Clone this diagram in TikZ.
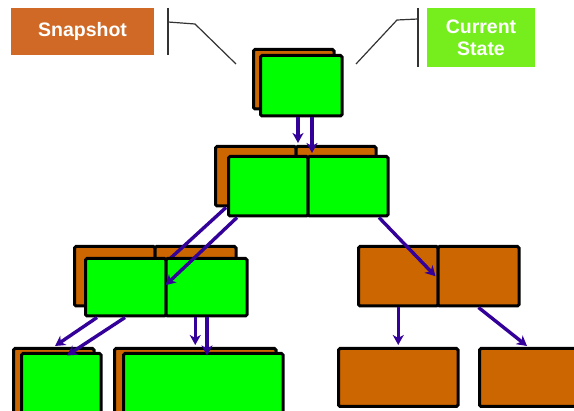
\documentclass[tikz,border=0pt]{standalone}
\usepackage{fontspec}
\newfontfamily\legendfont{Liberation Sans}
\usetikzlibrary{arrows.meta,fit}
\definecolor{snaporange}{RGB}{204,102,0}
\definecolor{livegreen}{RGB}{0,255,0}
\definecolor{tagorange}{RGB}{208,104,38}
\definecolor{taggreen}{RGB}{118,238,30}
\definecolor{linkblue}{RGB}{51,0,153}
\begin{document}
\begin{tikzpicture}[x=1pt,y=-1pt,
  cellbox/.style={draw=black, line width=3pt, rounded corners=1.5pt, inner sep=0pt},
  snapcell/.style={cellbox, fill=snaporange},
  livecell/.style={cellbox, fill=livegreen},
  tag/.style={text=white, font=\legendfont\bfseries\fontsize{19.5}{22}\selectfont,
              align=center, inner sep=0pt},
  link/.style={draw=linkblue, line width=3.4pt,
               -{Stealth[length=10pt,width=11pt,inset=3pt]}},
  leader/.style={draw=black!80, line width=1.2pt}]

\useasboundingbox (0,0) rectangle (574,411);
\clip (0,0) rectangle (574,411);

% ---- legend ----
\node[tag, fill=tagorange, minimum width=143pt, minimum height=47pt] (snaptag) at (82.5,31.5) {Snapshot};
\node[tag, fill=taggreen, minimum width=108pt, minimum height=59pt] (curtag) at (481,37.5) {Current\\State};

\coordinate (snapbrT) at (168,8);
\coordinate (snapbrB) at (168,55);
\coordinate (snapbrM) at (168,22);
\coordinate (snapkink) at (195,24);
\coordinate (snapend) at (236,64);
\draw[leader] (snapbrT) -- (snapbrB);
\draw[leader] (snapbrM) -- (snapkink) -- (snapend);

\coordinate (curbrT) at (418,8);
\coordinate (curbrB) at (418,67);
\coordinate (curbrM) at (418,19);
\coordinate (curkink) at (397,20);
\coordinate (curend) at (356,64);
\draw[leader] (curbrT) -- (curbrB);
\draw[leader] (curbrM) -- (curkink) -- (curend);

% ---- snapshot tree (back layer) ----
\node[snapcell, fit={(253.5,49.5) (334,109)}] (t0o) {};
\node[snapcell, fit={(215.5,146.5) (296,206)}] (l2oL) {};
\node[snapcell, fit={(296,146.5) (376,206)}] (l2oR) {};
\node[snapcell, fit={(74.5,246.5) (155,306)}] (l3oL) {};
\node[snapcell, fit={(155,246.5) (236,306)}] (l3oR) {};
\node[snapcell, fit={(358.5,246.5) (438,306)}] (l3rL) {};
\node[snapcell, fit={(438,246.5) (519,306)}] (l3rR) {};
\node[snapcell, fit={(13.5,348.5) (94,430)}] (l4ao) {};
\node[snapcell, fit={(114.5,348.5) (276,430)}] (l4bo) {};
\node[snapcell, fit={(338.5,348.5) (458,406.5)}] (l4c) {};
\node[snapcell, fit={(479.5,348.5) (600,406.5)}] (l4d) {};

% ---- current state tree (front layer) ----
\node[livecell, fit={(260.5,55.5) (342,116)}] (t0g) {};
\node[livecell, fit={(228.5,156.5) (308,216)}] (l2gL) {};
\node[livecell, fit={(308,156.5) (388,216)}] (l2gR) {};

% snapshot-to-snapshot pointer, its head runs under the front cell
\draw[link] ([xshift=-29.75pt]l2oL.south) -- ([xshift=-39.5pt,yshift=-26.5pt]l3oR.north);

\node[livecell, fit={(85.5,258.5) (166,316)}] (l3gL) {};
\node[livecell, fit={(166,258.5) (247,316)}] (l3gR) {};
\node[livecell, fit={(21.5,353.5) (101,430)}] (l4ag) {};
\node[livecell, fit={(123.5,353.5) (283,430)}] (l4bg) {};

% ---- pointers ----
\draw[link] ([xshift=-3.25pt]t0g.south) -- ([xshift=-38pt,yshift=2pt]l2oR.north);
\draw[link] ([xshift=10.75pt]t0g.south) -- ([xshift=-36pt,yshift=2pt]l2gR.north);
\draw[link] ([xshift=-31.25pt]l2gL.south) -- ([xshift=1pt,yshift=2pt]l3gR.west);
\draw[link] ([xshift=31pt]l2gR.south) -- ([xshift=-1pt]l3rR.west);
\draw[link] ([xshift=-28.75pt]l3gL.south) -- ([xshift=1.25pt,yshift=1pt]l4ao.north);
\draw[link] ([xshift=-0.75pt]l3gL.south) -- ([xshift=5.75pt,yshift=-3.5pt]l4ag.north);
\draw[link] ([xshift=-11.25pt]l3gR.south) -- ([yshift=2pt]l4bo.north);
\draw[link] ([xshift=0.5pt]l3gR.south) -- ([xshift=3.75pt,yshift=-3.5pt]l4bg.north);
\draw[link] (l3rL.south) -- ([yshift=2pt]l4c.north);
\draw[link] (l3rR.south) -- ([xshift=-12.75pt,yshift=1pt]l4d.north);
\end{tikzpicture}
\end{document}
